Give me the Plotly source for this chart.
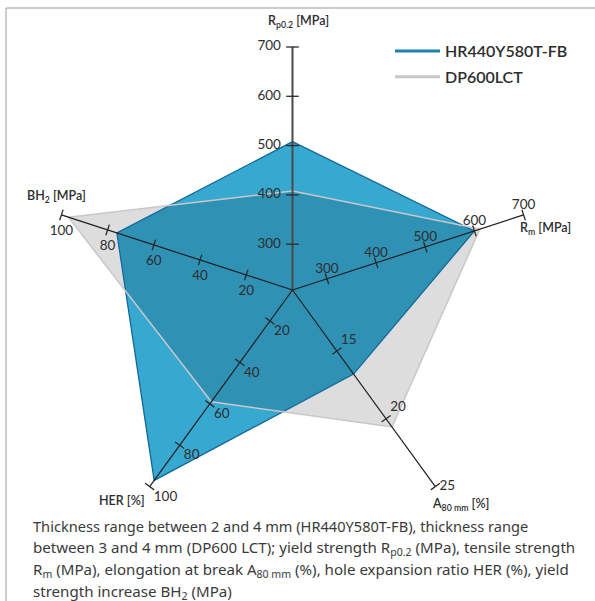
import plotly.graph_objects as go

# ---- data ----
AXIS_THETA = [0, 72, 144, 216, 288]          # Rp0.2, Rm, A80, HER, BH2 (clockwise from top)
AXIS_MIN = [207, 230, 10.5, 5, 0]            # value at centre of each axis
AXIS_MAX = [700, 700, 25, 100, 100]          # value at end of each axis
TICKS_RP = [300, 400, 500, 600, 700]
TICKS_RM = [300, 400, 500, 600, 700]
TICKS_A80 = [15, 20, 25]
TICKS_HER = [20, 40, 60, 80, 100]
TICKS_BH2 = [20, 40, 60, 80, 100]
SERIES_NAMES = ["HR440Y580T-FB", "DP600LCT"]
HR440 = [508, 600, 16.7, 97, 76]
DP600 = [408, 611, 20.6, 59, 97]

W, H = 595, 601
CX, CY, R = 292.5, 290, 243
FONT = "Lato"
CAP_FONT = "Noto Sans"
TXT = "#2d2d2d"


def norm(i, v):
    return (v - AXIS_MIN[i]) / (AXIS_MAX[i] - AXIS_MIN[i])


def series_r(vals):
    rs = [norm(i, v) for i, v in enumerate(vals)]
    return rs + rs[:1]


theta_closed = AXIS_THETA + AXIS_THETA[:1]

fig = go.Figure()

# fills
fig.add_trace(go.Scatterpolar(r=series_r(HR440), theta=theta_closed, mode="lines",
                              fill="toself", fillcolor="#37a8cf", line=dict(width=0),
                              showlegend=False, hoverinfo="skip"))
fig.add_trace(go.Scatterpolar(r=series_r(DP600), theta=theta_closed, mode="lines",
                              fill="toself", fillcolor="rgba(0,0,8,0.135)", line=dict(width=0),
                              showlegend=False, hoverinfo="skip"))
# outlines
fig.add_trace(go.Scatterpolar(r=series_r(HR440), theta=theta_closed, mode="lines",
                              line=dict(color="#14699b", width=1.3), showlegend=False))
fig.add_trace(go.Scatterpolar(r=series_r(DP600), theta=theta_closed, mode="lines",
                              line=dict(color="#c8c8cb", width=1.5), showlegend=False))

# axis lines
for i, th in enumerate(AXIS_THETA):
    if i == 0:
        col, w = "#4a4a4a", 2
    else:
        col, w = "#1e1e1e", 1.2
    fig.add_trace(go.Scatterpolar(r=[0, 1], theta=[th, th], mode="lines",
                                  line=dict(color=col, width=w), showlegend=False,
                                  hoverinfo="skip"))

# ticks + labels
tick_sets = [TICKS_RP, TICKS_RM, TICKS_A80, TICKS_HER, TICKS_BH2]
tick_pos = [
    ["middle left"] * 5,
    ["top center"] * 5,
    ["top right", "top right", "middle right"],
    ["bottom right"] * 5,
    ["bottom center"] * 5,
]
label_pad = [17, 3, 5, 5, 15]
for i, ticks in enumerate(tick_sets):
    th = AXIS_THETA[i]
    rr = [norm(i, t) for t in ticks]
    size = 9 if i == 0 else 8
    fig.add_trace(go.Scatterpolar(
        r=rr, theta=[th] * len(ticks), mode="markers",
        marker=dict(symbol="line-ns", size=size, angle=th + 90, color="#2a2a2a",
                    line=dict(color="#2a2a2a", width=1.3)),
        showlegend=False, hoverinfo="skip", cliponaxis=False))
    fig.add_trace(go.Scatterpolar(
        r=rr, theta=[th] * len(ticks), mode="markers+text",
        text=[str(t) for t in ticks], textposition=tick_pos[i],
        textfont=dict(family=FONT, size=13.5, color=TXT),
        marker=dict(size=label_pad[i], color="rgba(0,0,0,0)"),
        showlegend=False, hoverinfo="skip", cliponaxis=False))

# legend entries
fig.add_trace(go.Scatterpolar(r=[None], theta=[None], mode="lines", name=SERIES_NAMES[0],
                              line=dict(color="#1b82b8", width=3), legendgroup="a"))
fig.add_trace(go.Scatterpolar(r=[None], theta=[None], mode="lines", name=SERIES_NAMES[1],
                              line=dict(color="#c8c8cb", width=3), legendgroup="b"))

# axis titles
titles = [
    ("R<sub>p0.2</sub> [MPa]", 298, 22),
    ("R<sub>m</sub> [MPa]", 545, 228),
    ("A<sub>80 mm</sub> [%]", 460, 504),
    ("HER [%]", 122, 500),
    ("BH<sub>2</sub> [MPa]", 56, 197),
]
annotations = []
for t, x, y in titles:
    annotations.append(dict(text=t, x=x / W, y=1 - y / H, xref="paper", yref="paper",
                            showarrow=False, xanchor="center", yanchor="middle",
                            font=dict(family=FONT, size=12.5, color=TXT, weight=600)))

caption = [
    "Thickness range between 2 and 4 mm (HR440Y580T-FB), thickness range",
    "between 3 and 4 mm (DP600 LCT); yield strength R<sub>p0.2</sub> (MPa), tensile strength",
    "R<sub>m</sub> (MPa), elongation at break A<sub>80 mm</sub> (%), hole expansion ratio HER (%), yield",
    "strength increase BH<sub>2</sub> (MPa)",
]
cap_sizes = [14.6, 15.1, 15.1, 15.1]
for k, line in enumerate(caption):
    annotations.append(dict(text=line, x=31 / W, y=1 - (525.5 + 22.3 * k) / H,
                            xref="paper", yref="paper", showarrow=False,
                            xanchor="left", yanchor="middle", align="left",
                            font=dict(family=CAP_FONT, size=cap_sizes[k], color="#3a3a3a")))

fig.update_layout(
    width=W, height=H,
    margin=dict(l=0, r=0, t=0, b=0),
    paper_bgcolor="white",
    plot_bgcolor="white",
    polar=dict(
        domain=dict(x=[(CX - R) / W, (CX + R) / W], y=[(H - CY - R) / H, (H - CY + R) / H]),
        bgcolor="rgba(0,0,0,0)",
        radialaxis=dict(visible=False, range=[0, 1]),
        angularaxis=dict(visible=False, rotation=90, direction="clockwise"),
    ),
    legend=dict(x=390 / W, y=1 - 34 / H, xanchor="left", yanchor="top",
                font=dict(family=FONT, size=16, color=TXT, weight=600),
                bgcolor="rgba(0,0,0,0)", itemwidth=45, tracegroupgap=2),
    annotations=annotations,
    shapes=[dict(type="rect", xref="paper", yref="paper", x0=6 / W, x1=1.2,
                 y0=-0.2, y1=1 - 8 / H, line=dict(color="#9a9a9a", width=1))],
    showlegend=True,
)

fig.write_html("out.html", config={"displayModeBar": False},
               post_script="document.body.style.margin='0';")
